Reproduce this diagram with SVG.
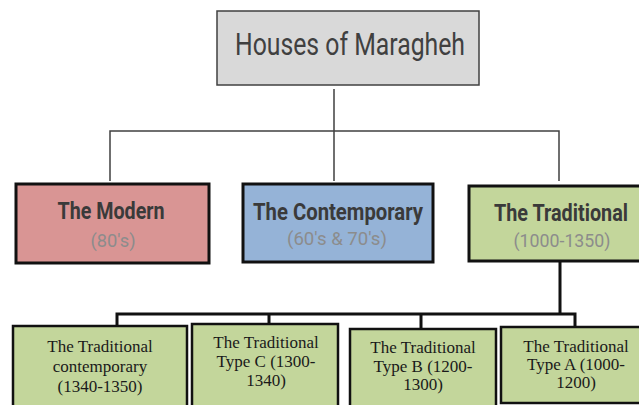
<svg xmlns="http://www.w3.org/2000/svg" width="639" height="405" viewBox="0 0 639 405">
<style>
.bg{fill:#ffffff}
.top{fill:#d9d9d9;stroke:#404040;stroke-width:1.5}
.box{stroke:#111111;stroke-width:3}
.modern{fill:#d99594}
.contemp{fill:#95b3d7}
.trad{fill:#c3d69b}
.sub{fill:#c3d69b;stroke:#111111;stroke-width:2.5}
.h{font-family:"Liberation Sans Narrow","Roboto","Liberation Sans",sans-serif;text-anchor:middle}
.title{font-size:32px;fill:#404040}
.t2{font-size:20px;fill:#3a3a3a;font-weight:bold}
.t3{font-size:18px;fill:#8c8c8c}
.s{font-family:"Liberation Serif","Times New Roman",serif;font-size:17px;fill:#1a1a1a;text-anchor:middle}
.thin{stroke:#404040;stroke-width:1.5;fill:none}
.thick{stroke:#111111;stroke-width:3;fill:none}
</style>
<rect class="bg" x="0" y="0" width="639" height="405"/>
<g id="connectors">
<path class="thin" d="M334 89 V181 M110 181 V131 H559 V181"/>
<path class="thick" d="M560 261 V314 M117 326 V314 H575 V327 M269 314 V324 M421 314 V329"/>
</g>
<g id="root">
<rect class="top" x="217" y="11" width="262" height="74"/>
<text class="h title" x="350" y="55" textLength="230" lengthAdjust="spacingAndGlyphs">Houses of Maragheh</text>
</g>
<g id="modern">
<rect class="box modern" x="16" y="184" width="193" height="79"/>
<text class="h t2" transform="translate(111 219) scale(1 1.2)" textLength="107" lengthAdjust="spacingAndGlyphs">The Modern</text>
<text class="h t3" x="113" y="247" textLength="45" lengthAdjust="spacingAndGlyphs">(80's)</text>
</g>
<g id="contemporary">
<rect class="box contemp" x="243" y="184" width="190" height="78"/>
<text class="h t2" transform="translate(338 220) scale(1 1.2)" textLength="170" lengthAdjust="spacingAndGlyphs">The Contemporary</text>
<text class="h t3" x="337" y="245" textLength="100" lengthAdjust="spacingAndGlyphs">(60's &amp; 70's)</text>
</g>
<g id="traditional">
<rect class="box trad" x="469" y="186" width="172" height="75"/>
<text class="h t2" transform="translate(561 221) scale(1 1.2)" textLength="134" lengthAdjust="spacingAndGlyphs">The Traditional</text>
<text class="h t3" x="562" y="247" textLength="97" lengthAdjust="spacingAndGlyphs">(1000-1350)</text>
</g>
<g id="trad-contemporary">
<rect class="sub" x="13" y="326" width="174" height="90"/>
<text class="s" x="100" y="352">The Traditional</text>
<text class="s" x="100" y="372">contemporary</text>
<text class="s" x="100" y="392">(1340-1350)</text>
</g>
<g id="type-c">
<rect class="sub" x="192" y="324" width="146" height="92"/>
<text class="s" x="266" y="348">The Traditional</text>
<text class="s" x="266" y="367">Type C (1300-</text>
<text class="s" x="266" y="386">1340)</text>
</g>
<g id="type-b">
<rect class="sub" x="350" y="329" width="146" height="87"/>
<text class="s" x="423" y="353">The Traditional</text>
<text class="s" x="423" y="372">Type B (1200-</text>
<text class="s" x="423" y="390">1300)</text>
</g>
<g id="type-a">
<rect class="sub" x="501" y="327" width="142" height="76"/>
<text class="s" x="576" y="352">The Traditional</text>
<text class="s" x="576" y="370">Type A (1000-</text>
<text class="s" x="576" y="388">1200)</text>
</g>
</svg>
